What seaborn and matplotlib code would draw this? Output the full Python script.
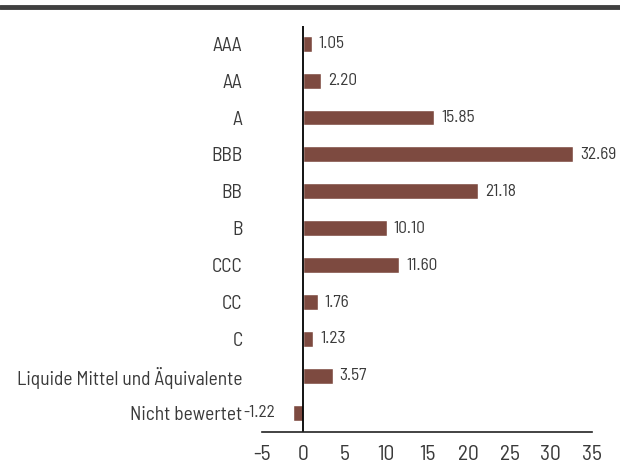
import matplotlib
matplotlib.use("Agg")
import matplotlib.pyplot as plt
import seaborn as sns
import pandas as pd

# Daten
ratings = ["AAA", "AA", "A", "BBB", "BB", "B", "CCC", "CC", "C",
           "Liquide Mittel und Äquivalente", "Nicht bewertet"]
weights = [1.05, 2.20, 15.85, 32.69, 21.18, 10.10, 11.60, 1.76, 1.23, 3.57, -1.22]
x_ticks = [-5, 0, 5, 10, 15, 20, 25, 30, 35]

df = pd.DataFrame({"Rating": ratings, "Gewicht": weights})

sns.set_theme(style="white")
plt.rcParams["font.family"] = ["Barlow Semi Condensed", "DejaVu Sans"]
text_col = "#3a3a3a"
bar_col = "#7d4a40"

fig = plt.figure(figsize=(6.2, 4.72), dpi=100)
ax = fig.add_axes([0.4226, 0.0847, 0.5322, 0.8603])

sns.barplot(data=df, x="Gewicht", y="Rating", orient="h", color=bar_col,
            width=0.43, saturation=1, ax=ax)

for cont in ax.containers:
    vals = list(cont.datavalues)
    pos = [f"{v:.2f}" if v >= 0 else "" for v in vals]
    neg = [f"{v:.2f}" if v < 0 else "" for v in vals]
    ax.bar_label(cont, labels=pos, padding=5, fontsize=12.5, color=text_col)
    ax.bar_label(cont, labels=neg, padding=13, fontsize=12.5, color=text_col)

ax.set_xlim(-5, 35)
ax.set_ylim(10.52, -0.48)
ax.set_xticks(x_ticks)
ax.set_xticklabels([str(t) for t in x_ticks])
ax.axvline(0, color="black", lw=1.3)

sns.despine(ax=ax, left=True)
ax.spines["bottom"].set_color("#222222")
ax.spines["bottom"].set_linewidth(1.2)

ax.tick_params(axis="x", length=0, labelsize=15.5, colors=text_col, pad=9)
ax.tick_params(axis="y", length=0, labelsize=14, colors=text_col, pad=14)
ax.set_xlabel("")
ax.set_ylabel("")

# dunkler Balken oben
fig.add_artist(plt.Line2D([0, 1], [0.985, 0.985], color="#404040", lw=3.5,
                          transform=fig.transFigure))

fig.savefig("out.png", dpi=100)
